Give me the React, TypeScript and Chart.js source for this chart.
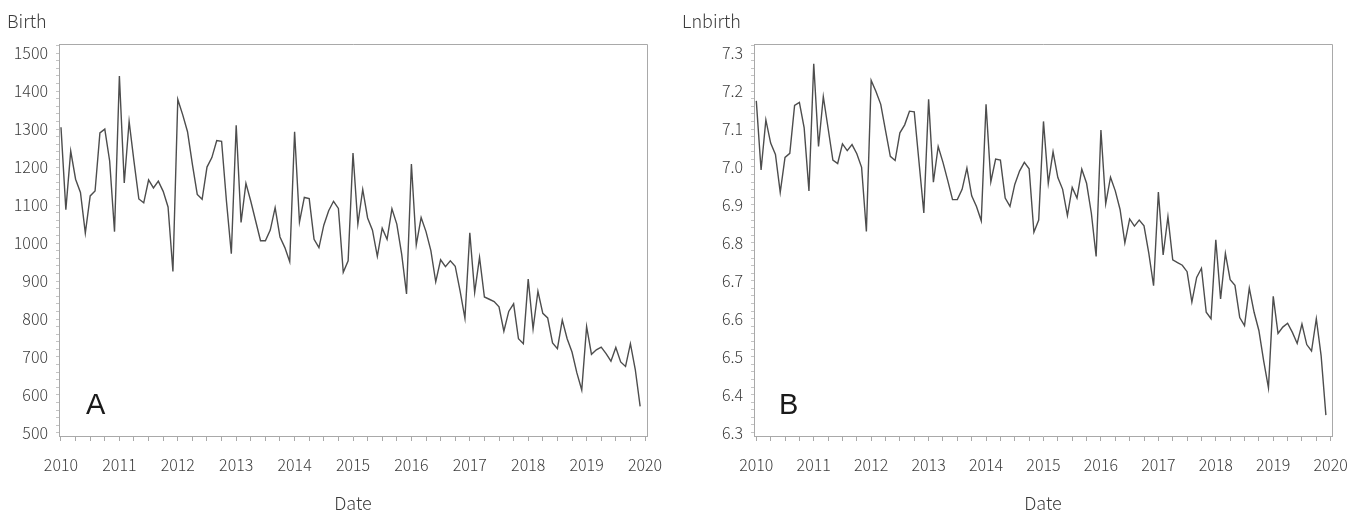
import React, { useEffect, useRef } from 'react';
import { Chart, registerables } from 'chart.js';

Chart.register(...registerables);

// Monthly series, Jan 2010 – Dec 2019
const START_YEAR = 2010;

const birth = [
  1305, 1088, 1242, 1168, 1133, 1026, 1124, 1137, 1290, 1300, 1216, 1030,
  1440, 1158, 1320, 1215, 1116, 1106, 1166, 1145, 1163, 1136, 1095, 925,
  1378, 1338, 1293, 1207, 1128, 1115, 1200, 1225, 1270, 1268, 1110, 972,
  1310, 1054, 1157, 1110, 1058, 1006, 1006, 1034, 1093, 1016, 988, 951,
  1293, 1055, 1120, 1117, 1010, 988, 1047, 1085, 1110, 1091, 923, 953,
  1237, 1050, 1141, 1066, 1034, 965, 1039, 1010, 1090, 1050, 971, 866,
  1208, 995, 1067, 1030, 980, 898, 956, 938, 953, 939, 874, 802,
  1027, 870, 962, 858, 852, 846, 832, 768, 820, 840, 748, 735,
  905, 774, 873, 815, 803, 737, 722, 797, 748, 713, 658, 613,
  780, 707, 719, 726, 709, 689, 725, 687, 675, 735, 667, 570,
];

const lnBirth = [
  7.174, 6.992, 7.124, 7.063, 7.033, 6.933, 7.025, 7.036, 7.162, 7.170, 7.103, 6.937,
  7.272, 7.054, 7.185, 7.102, 7.018, 7.009, 7.061, 7.043, 7.059, 7.035, 6.999, 6.830,
  7.228, 7.199, 7.165, 7.096, 7.028, 7.017, 7.090, 7.111, 7.147, 7.145, 7.012, 6.879,
  7.178, 6.960, 7.054, 7.012, 6.964, 6.914, 6.914, 6.941, 6.997, 6.924, 6.896, 6.858,
  7.165, 6.961, 7.021, 7.018, 6.918, 6.896, 6.954, 6.989, 7.012, 6.995, 6.828, 6.860,
  7.120, 6.957, 7.040, 6.972, 6.941, 6.872, 6.946, 6.918, 6.994, 6.957, 6.878, 6.764,
  7.097, 6.903, 6.973, 6.937, 6.888, 6.800, 6.863, 6.844, 6.860, 6.845, 6.773, 6.687,
  6.934, 6.768, 6.869, 6.755, 6.748, 6.741, 6.724, 6.644, 6.709, 6.733, 6.617, 6.600,
  6.808, 6.652, 6.772, 6.703, 6.688, 6.603, 6.582, 6.681, 6.617, 6.569, 6.489, 6.418,
  6.659, 6.561, 6.578, 6.588, 6.564, 6.535, 6.586, 6.532, 6.515, 6.600, 6.503, 6.346,
];

const yearTicks = [2010, 2011, 2012, 2013, 2014, 2015, 2016, 2017, 2018, 2019, 2020];
const birthTicks = [500, 600, 700, 800, 900, 1000, 1100, 1200, 1300, 1400, 1500];
const lnBirthTicks = [6.3, 6.4, 6.5, 6.6, 6.7, 6.8, 6.9, 7.0, 7.1, 7.2, 7.3];

const FONT = '"Noto Sans CJK KR", "Noto Sans", sans-serif';
const AXIS_GREY = '#a9a9a9';
const TEXT = '#3c3c3c';

function monthPoints(values: number[]) {
  return values.map((v, i) => ({ x: START_YEAR + i / 12, y: v }));
}

function minorBetween(majors: number[], parts: number, lo: number, hi: number) {
  const out: number[] = [];
  const step = (majors[1] - majors[0]) / parts;
  const first = majors[0] - step * parts;
  for (let k = 0; k <= (majors.length + 1) * parts; k++) {
    const v = +(first + k * step).toFixed(6);
    if (v >= lo && v <= hi) out.push(v);
  }
  return out;
}

function isMajor(v: number, majors: number[]) {
  return majors.some((m) => Math.abs(m - v) < 1e-6);
}

const boxPlugin = {
  id: 'boxFrame',
  afterDraw(chart: any) {
    const { ctx, chartArea: a } = chart;
    ctx.save();
    ctx.strokeStyle = AXIS_GREY;
    ctx.lineWidth = 1;
    ctx.beginPath();
    ctx.moveTo(a.left, a.top + 0.5);
    ctx.lineTo(a.right + 0.5, a.top + 0.5);
    ctx.lineTo(a.right + 0.5, a.bottom);
    ctx.stroke();
    ctx.restore();
  },
};

type PanelProps = {
  left: number;
  width: number;
  title: string;
  letter: string;
  values: number[];
  yMin: number;
  yMax: number;
  yMajors: number[];
  yFmt: (v: number) => string;
  xMin: number;
  xMax: number;
  padLeft: number;
  padRight: number;
  yAxisWidth: number;
  letterDx: number;
};

function Panel(p: PanelProps) {
  const ref = useRef<HTMLCanvasElement | null>(null);
  useEffect(() => {
    if (!ref.current) return;
    const letterPlugin = {
      id: 'panelLetter',
      afterDraw(chart: any) {
        const { ctx, chartArea: a } = chart;
        ctx.save();
        ctx.fillStyle = '#1a1a1a';
        ctx.font = '29px "Liberation Sans", Arial, sans-serif';
        ctx.textAlign = 'left';
        ctx.textBaseline = 'alphabetic';
        ctx.fillText(p.letter, a.left + p.letterDx, a.bottom - 22);
        ctx.restore();
      },
    };
    const xMinor = minorBetween(yearTicks, 4, p.xMin, p.xMax);
    const yMinor = minorBetween(p.yMajors, 5, p.yMin, p.yMax);
    const chart = new Chart(ref.current, {
      type: 'line',
      data: {
        datasets: [
          {
            data: monthPoints(p.values),
            borderColor: '#4d4d4d',
            borderWidth: 1.4,
            pointRadius: 0,
            tension: 0,
            fill: false,
          },
        ],
      },
      options: {
        animation: false,
        responsive: false,
        maintainAspectRatio: false,
        layout: { padding: { left: p.padLeft, right: p.padRight, top: 0, bottom: 0 } },
        plugins: {
          legend: { display: false },
          tooltip: { enabled: false },
          title: {
            display: true,
            text: p.title,
            align: 'start',
            color: TEXT,
            font: { family: FONT, size: 18, weight: 300 },
            padding: { top: 10, bottom: 12.4 },
          },
        },
        scales: {
          x: {
            type: 'linear',
            min: p.xMin,
            max: p.xMax,
            afterBuildTicks: (s: any) => {
              s.ticks = xMinor.map((v) => ({ value: v }));
            },
            afterFit: (s: any) => {
              s.height = 78;
            },
            ticks: {
              autoSkip: false,
              maxRotation: 0,
              padding: 14,
              color: TEXT,
              font: { family: FONT, size: 16, weight: 300 },
              callback: (v: any) => (isMajor(Number(v), yearTicks) ? String(Math.round(Number(v))) : ''),
            },
            grid: {
              display: true,
              drawOnChartArea: false,
              drawTicks: true,
              tickLength: 5,
              color: AXIS_GREY,
            },
            border: { display: true, color: AXIS_GREY, width: 1 },
            title: {
              display: true,
              text: 'Date',
              color: TEXT,
              font: { family: FONT, size: 18, weight: 300 },
              padding: { top: 0, bottom: 0 },
            },
          },
          y: {
            type: 'linear',
            min: p.yMin,
            max: p.yMax,
            afterBuildTicks: (s: any) => {
              s.ticks = yMinor.map((v) => ({ value: v }));
            },
            afterFit: (s: any) => {
              s.width = p.yAxisWidth;
            },
            ticks: {
              autoSkip: false,
              padding: 8,
              color: TEXT,
              font: { family: FONT, size: 16, weight: 300 },
              callback: (v: any) => (isMajor(Number(v), p.yMajors) ? p.yFmt(Number(v)) : ''),
            },
            grid: {
              display: true,
              drawOnChartArea: false,
              drawTicks: true,
              tickLength: 3,
              color: '#c4c4c4',
            },
            border: { display: true, color: AXIS_GREY, width: 1 },
          },
        },
      },
      plugins: [boxPlugin, letterPlugin],
    } as any);
    return () => chart.destroy();
  }, []);
  return (
    <canvas
      ref={ref}
      width={p.width}
      height={514}
      style={{ position: 'absolute', left: p.left, top: 0, width: p.width, height: 514 }}
    />
  );
}

export default function App() {
  return (
    <div style={{ position: 'absolute', left: 0, top: 0, width: 1370, height: 514, background: '#ffffff' }}>
      <Panel
        left={0}
        width={678}
        title="Birth"
        letter="A"
        values={birth}
        yMin={492}
        yMax={1524}
        yMajors={birthTicks}
        yFmt={(v) => String(Math.round(v))}
        xMin={2009.966}
        xMax={2020.034}
        padLeft={7}
        padRight={31}
        yAxisWidth={52}
        letterDx={27}
      />
      <Panel
        left={678}
        width={692}
        title="Lnbirth"
        letter="B"
        values={lnBirth}
        yMin={6.291}
        yMax={7.324}
        yMajors={lnBirthTicks}
        yFmt={(v) => v.toFixed(1)}
        xMin={2009.96}
        xMax={2020.023}
        padLeft={4}
        padRight={38}
        yAxisWidth={72}
        letterDx={25}
      />
    </div>
  );
}
